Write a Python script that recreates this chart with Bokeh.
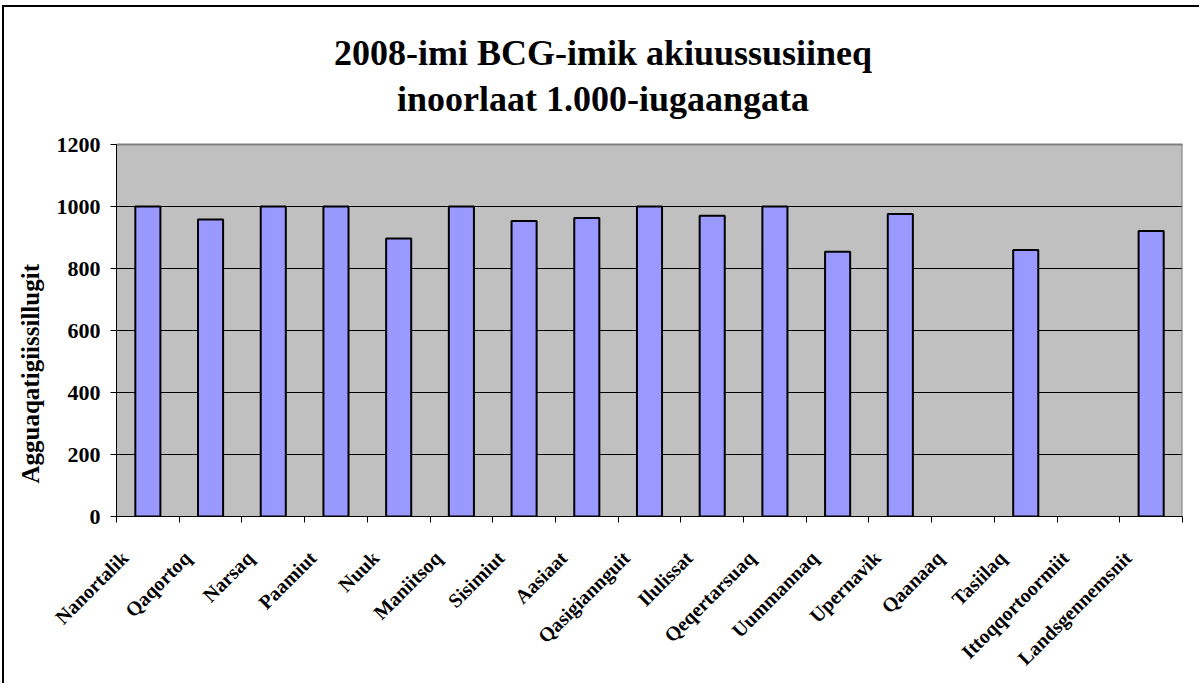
import numpy as np
from bokeh.plotting import figure
from bokeh.models import Range1d, FixedTicker, Title, ColumnDataSource
from bokeh.core.properties import value
from bokeh.embed import file_html
from bokeh.resources import INLINE

categories = ["Nanortalik", "Qaqortoq", "Narsaq", "Paamiut", "Nuuk", "Maniitsoq",
              "Sisimiut", "Aasiaat", "Qasigiannguit", "Ilulissat", "Qeqertarsuaq",
              "Uummannaq", "Upernavik", "Qaanaaq", "Tasiilaq", "Ittoqqortoormiit",
              "Landsgennemsnit"]
values = [1000, 958, 1000, 1000, 897, 1000, 953, 963, 1000, 970, 1000,
          854, 976, float("nan"), 860, float("nan"), 921]
y_ticks = [0, 200, 400, 600, 800, 1000, 1200]
title_lines = ["2008-imi BCG-imik akiuussusiineq", "inoorlaat 1.000-iugaangata"]
y_label = "Agguaqatigiissillugit"

FONT = "Liberation Serif"
n = len(categories)
y_max = y_ticks[-1]
pos = np.arange(n) + 0.5
src = ColumnDataSource(dict(x=pos, top=values, name=categories))

# canvas geometry (px); the frame also holds the title strip above the plot area
W, H = 1197, 678
B_LEFT, B_RIGHT, B_BOTTOM = 111, 19, 169
PLOT_H = 372            # height of the 0..1200 plot area
frame_h = H - B_BOTTOM
frame_w = W - B_LEFT - B_RIGHT
y_top = y_max * frame_h / PLOT_H
ppu_y = PLOT_H / y_max   # px per y unit
ppu_x = frame_w / n      # px per category

p = figure(width=W, height=H, output_backend="svg", toolbar_location=None,
           x_range=Range1d(0, n), y_range=Range1d(0, y_top), title=None)
p.min_border_left = B_LEFT
p.min_border_right = B_RIGHT
p.min_border_top = 0
p.min_border_bottom = B_BOTTOM
p.background_fill_color = "white"
p.border_fill_color = "white"
p.outline_line_color = None
p.styles = {"margin-left": "2px", "margin-top": "5px",
            "border-left": "2px solid black", "border-top": "2px solid black"}

# plot area background and its grey top/right edges
p.quad(left=0, right=n, bottom=0, top=y_max, fill_color="#C0C0C0",
       line_color=None, level="image")
p.line(x=[0, n, n], y=[y_max, y_max, 0], line_color="#808080", line_width=2)

p.vbar(x="x", top="top", width=0.4, bottom=0, source=src,
       fill_color="#9999FF", line_color="black", line_width=2)

# title (two lines, centred on the chart area)
title_cx_px = 487          # px right of the frame's left edge
title_base_px = [464, 418] # px above the x axis
p.text(x=[title_cx_px / ppu_x] * 2, y=[b / ppu_y for b in title_base_px],
       text=title_lines, text_font=value(FONT), text_font_size="36px",
       text_font_style="bold", text_align="center", text_baseline="alphabetic",
       text_color="black")

# y axis
ya = p.yaxis[0]
ya.ticker = FixedTicker(ticks=y_ticks)
ya.bounds = (0, y_max)
ya.axis_line_color = "black"
ya.major_tick_line_color = "black"
ya.major_tick_out = 6
ya.major_tick_in = 0
ya.minor_tick_line_color = None
ya.major_label_text_font = FONT
ya.major_label_text_font_style = "bold"
ya.major_label_text_font_size = "22px"
ya.major_label_text_color = "black"
ya.major_label_standoff = 10

# y label as a left-side title (sits lower than the plot-area centre, as in the reference)
yl = Title(text=y_label, align="left", text_font=FONT, text_font_size="25px",
           text_font_style="bold", text_color="black", offset=33, standoff=20)
p.add_layout(yl, "left")

# x axis: labels near category centres, tick marks at category boundaries
label_pos = pos - 0.37
xa = p.xaxis[0]
xa.ticker = FixedTicker(ticks=list(label_pos), minor_ticks=list(range(n + 1)))
xa.major_label_overrides = {float(v): c for v, c in zip(label_pos, categories)}
xa.major_label_orientation = np.pi / 4
xa.major_label_text_font = FONT
xa.major_label_text_font_style = "bold"
xa.major_label_text_font_size = "20px"
xa.major_label_text_color = "black"
xa.major_tick_line_color = None
xa.major_tick_out = 0
xa.major_tick_in = 0
xa.minor_tick_line_color = "black"
xa.minor_tick_out = 6
xa.minor_tick_in = 0
xa.axis_line_color = "black"
xa.major_label_standoff = 32

p.xgrid.grid_line_color = None
p.ygrid.ticker = FixedTicker(ticks=y_ticks)
p.ygrid.grid_line_color = "black"
p.ygrid.grid_line_width = 1

open("out.html", "w").write(file_html(p, INLINE))
